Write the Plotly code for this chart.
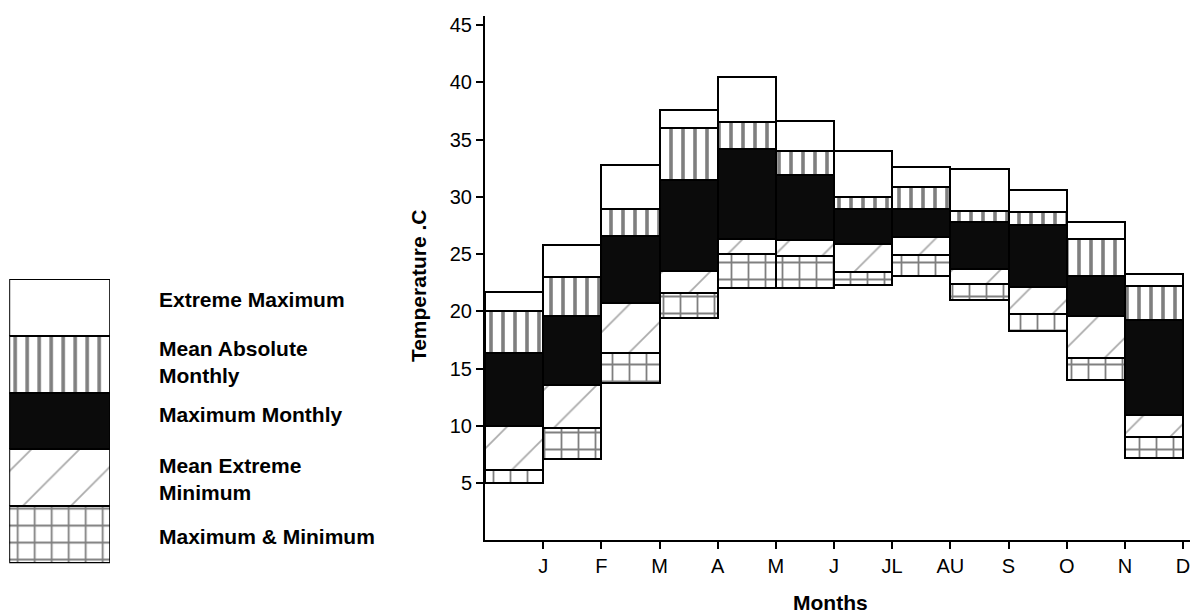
import plotly.graph_objects as go

# ---- data (°C) ----
months = ["J", "F", "M", "A", "M", "J", "JL", "AU", "S", "O", "N", "D"]
base_min = [5.0, 7.1, 13.7, 19.4, 22.0, 22.0, 22.3, 23.1, 21.0, 18.3, 14.0, 7.2]
maxmin_top = [6.1, 9.8, 16.4, 21.6, 25.0, 24.8, 23.4, 24.9, 22.4, 19.8, 15.9, 9.0]
mean_ext_min_top = [10.0, 13.6, 20.7, 23.5, 26.3, 26.2, 25.9, 26.5, 23.7, 22.1, 19.6, 10.9]
max_monthly_top = [16.4, 19.6, 26.6, 31.5, 34.2, 31.9, 28.9, 28.9, 27.8, 27.5, 23.1, 19.2]
mean_abs_top = [20.0, 23.0, 28.9, 36.0, 36.5, 34.0, 30.0, 30.9, 28.8, 28.7, 26.3, 22.2]
ext_max_top = [21.7, 25.8, 32.8, 37.6, 40.5, 36.6, 34.0, 32.6, 32.4, 30.6, 27.8, 23.3]

y_ticks = [5, 10, 15, 20, 25, 30, 35, 40, 45]
legend_names = ["Extreme Maximum", "Mean Absolute<br>Monthly", "Maximum Monthly",
                "Mean Extreme<br>Minimum", "Maximum & Minimum"]

# page geometry (browser body has an 8px margin)
W, H, OFF = 1192, 606, 8
def px(x):
    return (x - OFF) / W
def py(y):
    return (614 - y) / H

# ---- styles ----
styles = {
    "maxmin": dict(shape="+", size=17, solidity=0.2, fgcolor="black", bgcolor="white"),
    "mem": dict(shape="/", size=34, solidity=0.05, fgcolor="#555", bgcolor="white"),
    "mm": dict(shape="", fgcolor="black", bgcolor="black"),
    "mam": dict(shape="|", size=12, solidity=0.3, fgcolor="black", bgcolor="white"),
    "em": dict(shape="", fgcolor="white", bgcolor="white"),
}
fill = {"maxmin": "white", "mem": "white", "mm": "#0b0b0b", "mam": "white", "em": "white"}

layers = [
    ("maxmin", base_min, maxmin_top),
    ("mem", maxmin_top, mean_ext_min_top),
    ("mm", mean_ext_min_top, max_monthly_top),
    ("mam", max_monthly_top, mean_abs_top),
    ("em", mean_abs_top, ext_max_top),
]

fig = go.Figure()
xpos = [i + 0.5 for i in range(len(months))]
for key, lo, hi in layers:
    fig.add_trace(go.Bar(
        x=xpos, base=lo, y=[h - l for h, l in zip(hi, lo)], width=1,
        marker=dict(color=fill[key], line=dict(color="black", width=2),
                    pattern=styles[key]),
        showlegend=False, hoverinfo="skip", xaxis="x", yaxis="y"))

# legend swatch column (separate small axes)
legend_keys = ["em", "mam", "mm", "mem", "maxmin"]
n = len(legend_keys)
for j, key in enumerate(legend_keys):
    fig.add_trace(go.Bar(
        x=[0.5], base=[n - j - 1], y=[1], width=1,
        marker=dict(color=fill[key], line=dict(color="black", width=2),
                    pattern=styles[key]),
        showlegend=False, hoverinfo="skip", xaxis="x2", yaxis="y2"))

bold = dict(family="Liberation Sans", color="black", weight="bold")
ann = []
leg_y = [298, 361, 414, 479, 536]
for name, yy in zip(legend_names, leg_y):
    ann.append(dict(text=name, x=px(157), y=py(yy), xref="paper", yref="paper",
                    xanchor="left", yanchor="middle", align="left", showarrow=False,
                    font=dict(size=21, **bold)))
ann.append(dict(text="Temperature .C", x=px(418), y=py(284), xref="paper", yref="paper",
                textangle=-90, showarrow=False, xanchor="center", yanchor="middle",
                font=dict(size=21, **bold)))
ann.append(dict(text="Months", x=px(830), y=py(602), xref="paper", yref="paper",
                showarrow=False, xanchor="center", yanchor="middle",
                font=dict(size=21, **bold)))

fig.update_layout(
    width=W, height=H,
    margin=dict(l=0, r=0, t=0, b=0),
    paper_bgcolor="white", plot_bgcolor="white",
    barmode="overlay", bargap=0,
    font=dict(family="Liberation Sans", size=20, color="black"),
    xaxis=dict(domain=[px(485), px(1190)], range=[0, 12.12],
               tickvals=[i + 1 for i in range(len(months))], ticktext=months,
               showline=True, linecolor="black", linewidth=2, ticks="outside",
               ticklen=7, tickwidth=1.5, tickcolor="black", showgrid=False,
               zeroline=False, fixedrange=True),
    yaxis=dict(domain=[py(540), py(14)], range=[0, 45.8],
               tickvals=y_ticks, showline=True, linecolor="black", linewidth=2,
               ticks="outside", ticklen=7, tickwidth=1.5, tickcolor="black",
               showgrid=False, zeroline=False, fixedrange=True),
    xaxis2=dict(domain=[0.001, px(110)], range=[0, 1], visible=False,
                anchor="y2", fixedrange=True),
    yaxis2=dict(domain=[py(563), py(278)], range=[0, n],
                visible=False, anchor="x2", fixedrange=True),
    annotations=ann,
)

fig.write_html("out.html")
